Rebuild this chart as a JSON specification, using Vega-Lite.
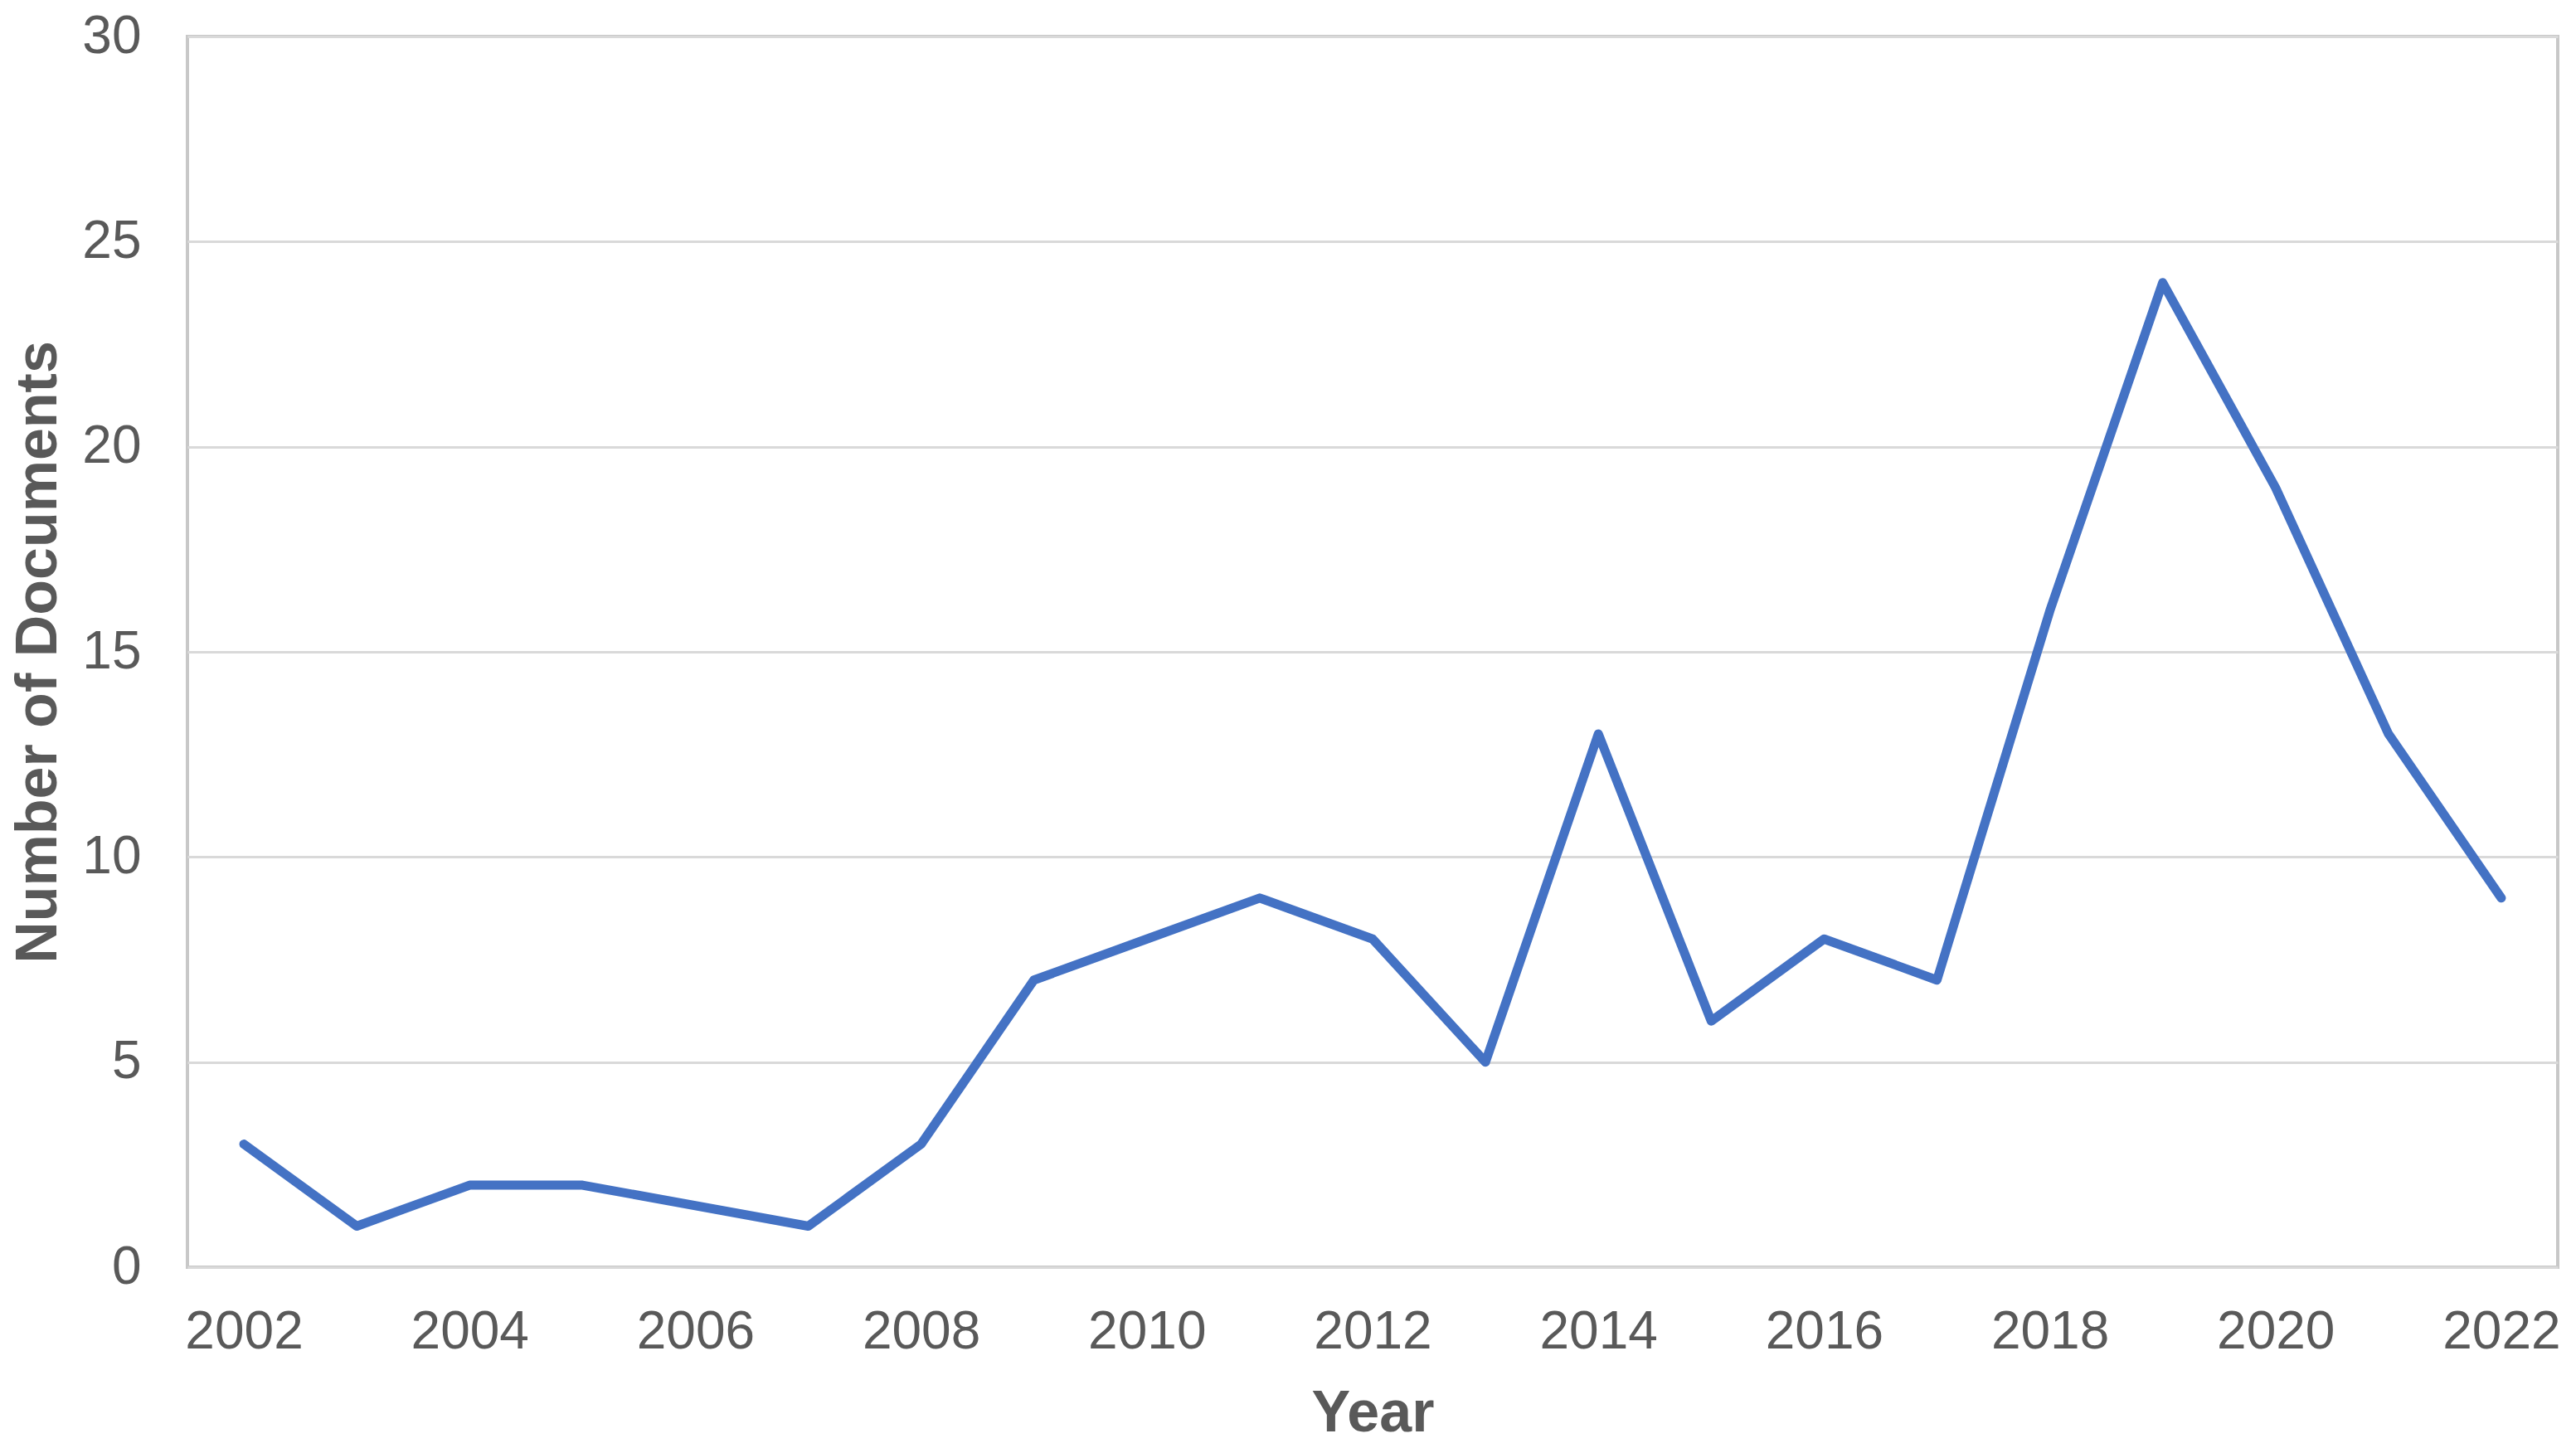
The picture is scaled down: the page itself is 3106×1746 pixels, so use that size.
{
  "$schema": "https://vega.github.io/schema/vega-lite/v6.json",
  "width": 2858,
  "height": 1484,
  "autosize": {"type": "none"},
  "padding": {"left": 226, "top": 44, "right": 22, "bottom": 218},
  "background": "white",
  "config": {
    "view": {"stroke": "#c8c8c8", "strokeWidth": 4},
    "font": "Liberation Sans"
  },
  "data": {
    "values": [
      {"Year": 2002, "Documents": 3},
      {"Year": 2003, "Documents": 1},
      {"Year": 2004, "Documents": 2},
      {"Year": 2005, "Documents": 2},
      {"Year": 2007, "Documents": 1},
      {"Year": 2008, "Documents": 3},
      {"Year": 2009, "Documents": 7},
      {"Year": 2010, "Documents": 8},
      {"Year": 2011, "Documents": 9},
      {"Year": 2012, "Documents": 8},
      {"Year": 2013, "Documents": 5},
      {"Year": 2014, "Documents": 13},
      {"Year": 2015, "Documents": 6},
      {"Year": 2016, "Documents": 8},
      {"Year": 2017, "Documents": 7},
      {"Year": 2018, "Documents": 16},
      {"Year": 2019, "Documents": 24},
      {"Year": 2020, "Documents": 19},
      {"Year": 2021, "Documents": 13},
      {"Year": 2022, "Documents": 9}
    ]
  },
  "mark": {"type": "line", "color": "#4472C4", "strokeWidth": 11, "strokeJoin": "round", "strokeCap": "round"},
  "encoding": {
    "x": {
      "field": "Year",
      "type": "quantitative",
      "scale": {"domain": [2001.5, 2022.5], "nice": false, "zero": false},
      "axis": {
        "title": "Year",
        "values": [2002, 2004, 2006, 2008, 2010, 2012, 2014, 2016, 2018, 2020, 2022],
        "format": "d",
        "grid": false,
        "ticks": false,
        "tickSize": 0,
        "domain": false,
        "labelFontSize": 64,
        "labelColor": "#595959",
        "labelPadding": 46,
        "labelFont": "Liberation Sans",
        "titleFont": "Liberation Sans",
        "titleFontSize": 70,
        "titleFontWeight": "bold",
        "titleColor": "#595959",
        "titlePadding": 32
      }
    },
    "y": {
      "field": "Documents",
      "type": "quantitative",
      "scale": {"domain": [0, 30], "nice": false},
      "axis": {
        "title": "Number of Documents",
        "values": [0, 5, 10, 15, 20, 25, 30],
        "grid": true,
        "gridColor": "#d9d9d9",
        "gridWidth": 3,
        "ticks": false,
        "tickSize": 0,
        "domain": false,
        "labelFontSize": 64,
        "labelColor": "#595959",
        "labelPadding": 56,
        "labelFont": "Liberation Sans",
        "titleFont": "Liberation Sans",
        "titleFontSize": 70,
        "titleFontWeight": "bold",
        "titleColor": "#595959",
        "titlePadding": 16
      }
    }
  }
}
